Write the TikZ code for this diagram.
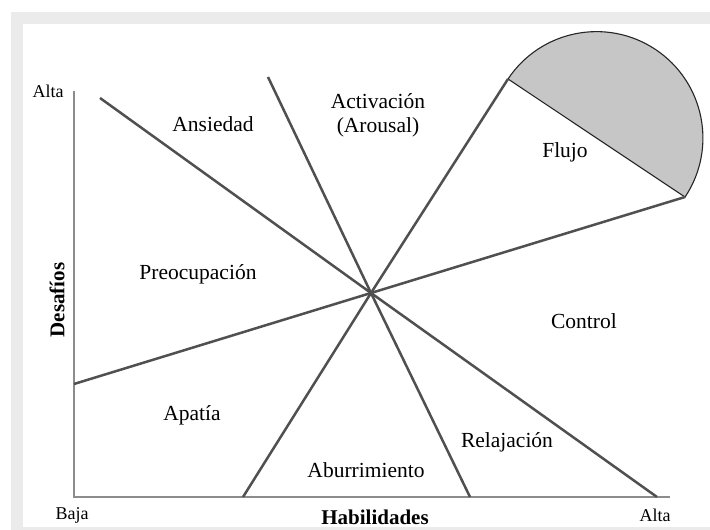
\documentclass[tikz,border=0pt]{standalone}
\usepackage{fontspec}
\setmainfont{Liberation Serif}
\definecolor{framegray}{HTML}{EBEBEB}
\definecolor{axisgray}{HTML}{8C8C8C}
\definecolor{linegray}{HTML}{505050}
\definecolor{flowgray}{HTML}{C6C6C6}
\tikzset{
  zone/.style={font=\fontsize{21.5}{24}\selectfont, align=center},
  scalelbl/.style={font=\fontsize{18}{20}\selectfont},
  axislbl/.style={font=\fontsize{21}{24}\selectfont\bfseries},
  sector/.style={draw=linegray, line width=2.5pt},
  axisline/.style={draw=axisgray, line width=1.8pt}
}

\begin{document}
\begin{tikzpicture}[x=1pt, y=1pt]
  \useasboundingbox (0,0) rectangle (710,530);

  % Frame
  \fill[framegray] (11,0) rectangle (710,518);
  \fill[white] (23,3) rectangle (710,506);

  % Points
  \coordinate (O) at (371,237);
  \coordinate (orig) at (74,33);
  \coordinate (ytop) at (74,439);
  \coordinate (xend) at (670,33);
  \coordinate (a1) at (100,432);
  \coordinate (b1) at (657,33);
  \coordinate (a2) at (268,453);
  \coordinate (b2) at (470,33);
  \coordinate (a3) at (508,451);
  \coordinate (b3) at (243,33);
  \coordinate (a4) at (74,146);
  \coordinate (b4) at (685,333);

  % Flow channel (half disc)
  \filldraw[fill=flowgray, draw=black!85, line width=1.1pt]
    (a3) arc[start angle=146.3, end angle=-33.7, radius=106.4] -- cycle;

  % Axes
  \draw[axisline] (ytop) -- (orig) -- (xend);

  % Sector lines
  \draw[sector] (a1) -- (O) -- (b1);
  \draw[sector] (a2) -- (O) -- (b2);
  \draw[sector] (a3) -- (O) -- (b3);
  \draw[sector] (a4) -- (O) -- (b4);

  % Labels
  \node[scalelbl] (altay) at (48,439) {Alta};
  \node[scalelbl] (baja) at (72,15) {Baja};
  \node[scalelbl] (altax) at (655,15) {Alta};
  \node[axislbl] (habil) at (375,13) {Habilidades};
  \node[axislbl, rotate=90] (desaf) at (57,230) {Desafíos};

  \node[zone] (ansiedad) at (213,406) {Ansiedad};
  \node[zone] (activ) at (378,415) {Activación\\(Arousal)};
  \node[zone] (flujo) at (565,378) {Flujo};
  \node[zone] (preoc) at (198,256) {Preocupación};
  \node[zone] (control) at (584,209) {Control};
  \node[zone] (apatia) at (192,115) {Apatía};
  \node[zone] (aburr) at (366,60) {Aburrimiento};
  \node[zone] (relaj) at (507,88) {Relajación};
\end{tikzpicture}
\end{document}
